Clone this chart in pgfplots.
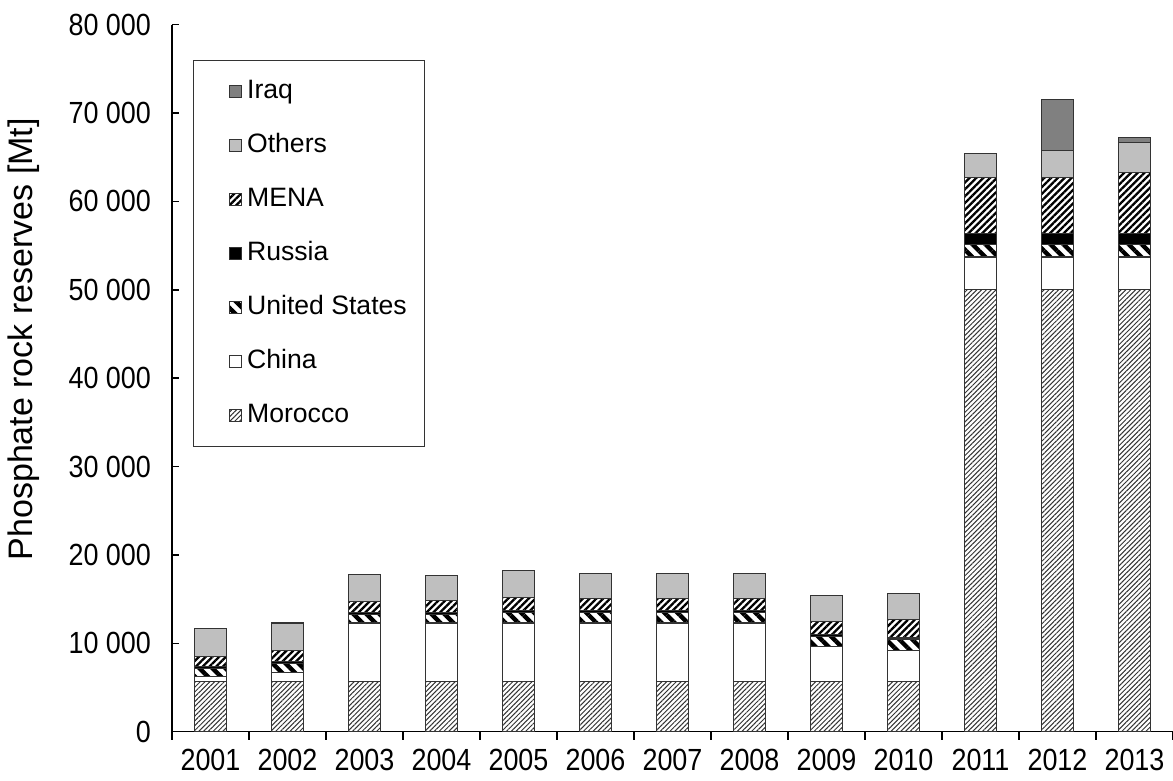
\documentclass[border=0pt]{standalone}
\usepackage{pgfplots}
\pgfplotsset{compat=1.18}
\usepackage{fontspec}
\setmainfont{Liberation Sans}
\newfontfamily\tickfont[FakeStretch=0.88]{Liberation Sans}
\usetikzlibrary{patterns.meta}
\definecolor{othersgray}{HTML}{BFBFBF}
\definecolor{iraqgray}{HTML}{808080}
\definecolor{edge}{HTML}{333333}
\begin{document}
\begin{tikzpicture}
\useasboundingbox (-86pt,-24.65pt) rectangle (500.5pt,365.85pt);
\begin{axis}[
  at={(0pt,0pt)}, anchor=south west,
  scale only axis, width=500.5pt, height=353.6pt,
  ybar stacked, bar width=16pt,
  xmin=-0.5, xmax=12.5, ymin=0, ymax=80000,
  scaled y ticks=false,
  axis lines*=left,
  axis line style={line width=0.8pt, black},
  tick align=inside,
  tick style={line width=0.8pt, black},
  xtick={0,1,2,3,4,5,6,7,8,9,10,11,12},
  xticklabels={2001,2002,2003,2004,2005,2006,2007,2008,2009,2010,2011,2012,2013},
  major x tick style={draw=none},
  minor xtick={-0.5,0.5,1.5,2.5,3.5,4.5,5.5,6.5,7.5,8.5,9.5,10.5,11.5,12.5},
  minor tick length=4pt,
  minor x tick style={yshift=-4pt, line width=0.8pt, black},
  major tick length=3.5pt,
  ytick={0,10000,20000,30000,40000,50000,60000,70000,80000},
  yticklabels={0,10 000,20 000,30 000,40 000,50 000,60 000,70 000,80 000},
  ticklabel style={font=\tickfont\fontsize{15.3}{18}\selectfont, text=black},
  yticklabel style={xshift=-7pt},
  xticklabel style={yshift=-5pt},
  ylabel={Phosphate rock reserves [Mt]},
  ylabel style={at={(axis description cs:-0.148,0.555)}, anchor=center, font=\fontsize{17}{20}\selectfont},
  every axis plot/.append style={draw=edge, line width=0.55pt},
  legend style={at={(axis description cs:0.021,0.95)}, anchor=north west,
    draw=edge, line width=0.6pt, inner xsep=6.5pt, inner ysep=6.5pt, row sep=9pt,
    font=\fontsize{13.3}{16}\selectfont,
    nodes={inner xsep=2.5pt, inner ysep=2.5pt, text height=10pt, text depth=3pt}},
  legend cell align=left,
  reverse legend,
  legend image code/.code={\path[draw=none,fill=none] (0pt,0pt) -- (11.5pt,0pt); \draw[#1, line width=0.5pt] (11.5pt,-3pt) rectangle (17.5pt,3pt);},
]
% Morocco
\addplot[pattern={Lines[angle=45,distance=1.7pt,line width=0.5pt]}, pattern color=black!80] coordinates {
(0,5700) (1,5700) (2,5700) (3,5700) (4,5700) (5,5700) (6,5700) (7,5700) (8,5700) (9,5700) (10,50000) (11,50000) (12,50000)};
% China
\addplot[fill=white] coordinates {
(0,500) (1,1000) (2,6600) (3,6600) (4,6600) (5,6600) (6,6600) (7,6600) (8,3900) (9,3500) (10,3700) (11,3700) (12,3700)};
% United States
\addplot[pattern={Lines[angle=-45,distance=4.6pt,line width=2.2pt]}, pattern color=black] coordinates {
(0,1000) (1,1000) (2,1000) (3,1000) (4,1200) (5,1200) (6,1200) (7,1200) (8,1200) (9,1200) (10,1400) (11,1400) (12,1400)};
% Russia
\addplot[fill=black] coordinates {
(0,200) (1,200) (2,200) (3,200) (4,200) (5,200) (6,200) (7,200) (8,200) (9,200) (10,1300) (11,1300) (12,1300)};
% MENA
\addplot[pattern={Lines[angle=45,distance=2.4pt,line width=1.15pt]}, pattern color=black] coordinates {
(0,1100) (1,1300) (2,1200) (3,1350) (4,1500) (5,1400) (6,1400) (7,1400) (8,1500) (9,2100) (10,6300) (11,6300) (12,6900)};
% Others
\addplot[fill=othersgray] coordinates {
(0,3200) (1,3100) (2,3100) (3,2850) (4,3000) (5,2800) (6,2800) (7,2800) (8,2950) (9,2950) (10,2700) (11,3000) (12,3400)};
% Iraq
\addplot[fill=iraqgray] coordinates {
(0,0) (1,0) (2,0) (3,0) (4,0) (5,0) (6,0) (7,0) (8,0) (9,0) (10,0) (11,5800) (12,550)};
\legend{Morocco,China,United States,Russia,MENA,Others,Iraq}
\end{axis}
\end{tikzpicture}
\end{document}
